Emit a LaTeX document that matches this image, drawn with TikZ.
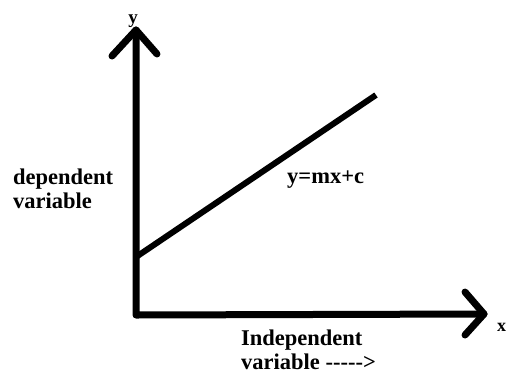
\documentclass[tikz,border=0pt]{standalone}
\usepackage{fontspec}
\setmainfont{Liberation Serif}
\begin{document}
\begin{tikzpicture}[x=1pt,y=-1pt,
  axis/.style={line width=7pt,line cap=round,line join=round},
  lbl/.style={font=\fontsize{22.5}{23.5}\selectfont\bfseries,inner sep=0pt,anchor=base west,align=left}]
\useasboundingbox (0,0) rectangle (509,376);
\coordinate (O) at (136,315);
\coordinate (Ytop) at (136,30);
\coordinate (Xend) at (484,314);
\coordinate (C) at (136,257);
\coordinate (E) at (376,95);
\draw[axis] (Ytop) -- (O) -- (Xend);
\draw[axis] (112,56) -- (Ytop) -- (157,54);
\draw[axis] (465,292) -- (Xend) -- (465,335);
\draw[line width=6pt] (C) -- (E);
\node[lbl,font=\fontsize{19}{21}\selectfont\bfseries,anchor=base] (ylab) at (133,23) {y};
\node[lbl,font=\fontsize{18}{20}\selectfont\bfseries] (xlab) at (497,331) {x};
\node[lbl] (dep) at (13,208) {dependent\\variable};
\node[lbl] (eq) at (287,183) {y=mx+c};
\node[lbl] (ind) at (241,369) {Independent\\variable {-}{-}{-}{-}{-}>};
\end{tikzpicture}
\end{document}
